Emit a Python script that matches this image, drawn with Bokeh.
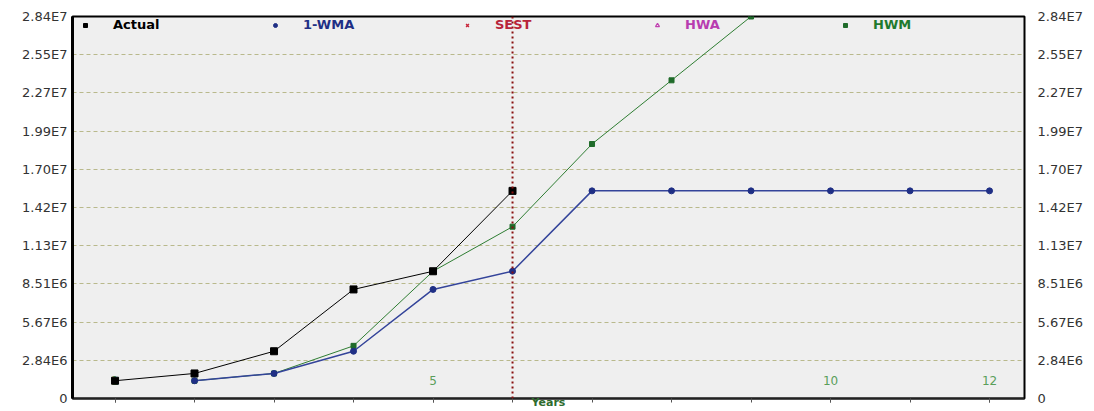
from bokeh.plotting import figure
from bokeh.models import (Range1d, LinearAxis, FixedTicker, Span,
                          Legend, LegendItem)
from bokeh.embed import file_html
from bokeh.resources import INLINE

# ---------------- data ----------------
years_actual = [1, 2, 3, 4, 5, 6]
actual = [1.32e6, 1.86e6, 3.51e6, 8.10e6, 9.45e6, 1.542e7]

years_wma = [2, 3, 4, 5, 6, 7, 8, 9, 10, 11, 12]
wma = [1.32e6, 1.86e6, 3.51e6, 8.10e6, 9.45e6, 1.542e7,
       1.542e7, 1.542e7, 1.542e7, 1.542e7, 1.542e7]

years_hwm = [2, 3, 4, 5, 6, 7, 8, 9]
hwm = [1.32e6, 1.86e6, 3.91e6, 9.45e6, 1.276e7, 1.89e7, 2.363e7, 2.837e7]

# SEST and HWA only appear in the legend (no plotted values)
years_sest = [float("nan")]
sest = [float("nan")]
years_hwa = [float("nan")]
hwa = [float("nan")]

forecast_start = 6

x_ticks = [1, 2, 3, 4, 5, 6, 7, 8, 9, 10, 11, 12]
x_label_years = [1, 5, 10, 12]

y_tick_values = [0, 2837000, 5674000, 8511000, 11348000, 14185000,
                 17022000, 19859000, 22696000, 25533000, 28370000]
y_tick_labels = ["0", "2.84E6", "5.67E6", "8.51E6", "1.13E7", "1.42E7",
                 "1.70E7", "1.99E7", "2.27E7", "2.55E7", "2.84E7"]

x_min, x_max = 0.465, 12.44
y_min, y_max = 0, 28370000

# ---------------- figure ----------------
FONT = "DejaVu Sans"

p = figure(width=1094, height=411, output_backend="svg", toolbar_location=None,
           x_range=Range1d(x_min, x_max), y_range=Range1d(y_min, y_max),
           min_border_left=72, min_border_right=70, min_border_top=16,
           min_border_bottom=12,
           background_fill_color="#efefef", border_fill_color="white",
           outline_line_color="black", outline_line_width=2)

overrides = {v: l for v, l in zip(y_tick_values, y_tick_labels)}

# bottom axis: tick labels sit inside the plot, above the axis line
xa = p.xaxis[0]
xa.ticker = FixedTicker(ticks=x_label_years, minor_ticks=x_ticks)
xa.major_label_standoff = -27
xa.major_label_text_font = FONT
xa.major_label_text_font_size = "12px"
xa.major_label_text_color = "#5a9e5a"
xa.major_tick_out = 4
xa.major_tick_in = 0
xa.minor_tick_out = 4
xa.minor_tick_in = 0
xa.axis_line_color = "#222222"
xa.axis_line_width = 2
xa.major_tick_line_color = "#555555"
xa.minor_tick_line_color = "#555555"
xa.axis_label = "Years"
xa.axis_label_standoff = 8
xa.axis_label_text_font = FONT
xa.axis_label_text_font_size = "11px"
xa.axis_label_text_font_style = "bold"
xa.axis_label_text_color = "#2e6b2e"
p.xgrid.visible = False

# left axis
ya = p.yaxis[0]
ya.ticker = FixedTicker(ticks=y_tick_values)
ya.major_label_overrides = overrides
ya.axis_line_color = "black"
ya.axis_line_width = 3
ya.major_tick_out = 0
ya.major_tick_in = 0
ya.minor_tick_out = 0
ya.minor_tick_in = 0
ya.major_label_standoff = 5
ya.major_label_text_font = FONT
ya.major_label_text_font_size = "13px"
ya.major_label_text_color = "#333333"

# right axis
ra = LinearAxis(ticker=FixedTicker(ticks=y_tick_values),
                major_label_overrides=overrides,
                axis_line_color="black", axis_line_width=1,
                major_tick_out=0, major_tick_in=0,
                minor_tick_out=0, minor_tick_in=0,
                major_label_standoff=13,
                major_label_text_font=FONT,
                major_label_text_font_size="13px",
                major_label_text_color="#333333")
p.add_layout(ra, "right")

# grid
p.ygrid.ticker = FixedTicker(ticks=y_tick_values)
p.ygrid.grid_line_color = "#b9b98c"
p.ygrid.grid_line_dash = "4 3"
p.ygrid.grid_line_width = 1

# forecast separator
p.add_layout(Span(location=forecast_start, dimension="height",
                  line_color="#8a1010", line_width=2, line_dash="2 3"))

# series
p.line(years_hwm, hwm, line_color="#2e7d32", line_width=1)
r_hwm = p.scatter(years_hwm, hwm, marker="square", size=5,
                  fill_color="#1f6b2a", line_color="#1f6b2a")

p.line(years_wma, wma, line_color="#34449a", line_width=1.5)
r_wma = p.scatter(years_wma, wma, marker="circle", size=6,
                  fill_color="#1f2f85", line_color="#1f2f85")

p.line(years_actual, actual, line_color="black", line_width=1)
r_act = p.scatter(years_actual, actual, marker="square", size=7,
                  fill_color="black", line_color="black")
r_act.level = "annotation"   # markers sit on top of the inner tick label "1"

r_sest = p.scatter(years_sest, sest, marker="x", size=6,
                   line_color="#c8283c", line_width=1.5)
r_hwa = p.scatter(years_hwa, hwa, marker="triangle", size=6,
                  fill_alpha=0, line_color="#c040b0", line_width=1.2)

# legends (one per entry so each label keeps its own colour)
legend_y = 366
legend_specs = [
    (r_act, "Actual", "black", 8),
    (r_wma, "1-WMA", "#1f2f85", 198),
    (r_sest, "SEST", "#b8243a", 390),
    (r_hwa, "HWA", "#b83cb0", 580),
    (r_hwm, "HWM", "#1f7a2e", 768),
]
for rend, lab, col, lx in legend_specs:
    leg = Legend(items=[LegendItem(label=lab, renderers=[rend])],
                 location=(lx, legend_y), orientation="horizontal",
                 glyph_width=10, glyph_height=12, label_height=12,
                 label_standoff=23, padding=0, margin=0, spacing=0,
                 border_line_alpha=0, background_fill_alpha=0,
                 label_text_font=FONT, label_text_font_size="13px",
                 label_text_font_style="bold", label_text_color=col)
    p.add_layout(leg)

open("out.html", "w").write(file_html(p, INLINE))
